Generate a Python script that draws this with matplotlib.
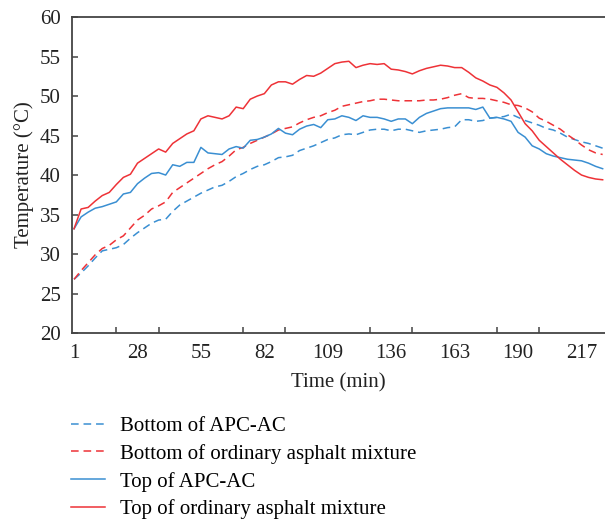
import matplotlib
matplotlib.use('Agg')
import matplotlib.pyplot as plt
from matplotlib.ticker import FixedLocator

plt.rcParams['font.family'] = ['Liberation Serif', 'DejaVu Serif']
plt.rcParams['font.size'] = 15

# time in minutes, one reading every 3 min
time_min = list(range(1, 227, 3))

bottom_apc = [26.8, 27.6, 28.5, 29.5, 30.4, 30.6, 30.8, 31.2, 32.0, 32.7,
              33.3, 33.9, 34.3, 34.4, 35.4, 36.2, 36.7, 37.2, 37.7, 38.1,
              38.5, 38.7, 39.2, 39.8, 40.2, 40.7, 41.1, 41.3, 41.7, 42.2,
              42.3, 42.5, 43.1, 43.4, 43.7, 44.1, 44.5, 44.7, 45.1, 45.2,
              45.1, 45.4, 45.7, 45.8, 45.8, 45.6, 45.8, 45.8, 45.6, 45.4,
              45.6, 45.7, 45.8, 46.0, 46.1, 47.0, 47.0, 46.8, 46.9, 47.2,
              47.3, 47.4, 47.7, 47.3, 46.9, 46.6, 46.3, 45.9, 45.7, 45.3,
              44.8, 44.5, 44.2, 44.0, 43.7, 43.4]

bottom_ord = [26.8, 27.9, 28.9, 29.9, 30.7, 31.1, 31.8, 32.3, 33.3, 34.3,
              34.9, 35.7, 36.1, 36.6, 37.8, 38.4, 39.0, 39.6, 40.2, 40.8,
              41.3, 41.7, 42.4, 43.2, 43.5, 44.0, 44.4, 44.8, 45.2, 45.7,
              45.9, 46.1, 46.6, 47.0, 47.3, 47.5, 47.9, 48.2, 48.7, 48.9,
              49.1, 49.3, 49.4, 49.6, 49.6, 49.5, 49.4, 49.4, 49.4, 49.4,
              49.5, 49.5, 49.6, 49.8, 50.1, 50.3, 49.8, 49.7, 49.7, 49.6,
              49.4, 49.2, 48.9, 48.8, 48.5, 48.0, 47.2, 46.8, 46.3, 45.8,
              45.1, 44.5, 43.8, 43.2, 42.8, 42.6]

top_apc = [33.2, 34.7, 35.3, 35.8, 36.0, 36.3, 36.6, 37.6, 37.8, 38.9,
           39.6, 40.2, 40.3, 40.0, 41.3, 41.1, 41.6, 41.6, 43.5, 42.8,
           42.7, 42.6, 43.3, 43.6, 43.4, 44.4, 44.5, 44.8, 45.2, 45.9,
           45.3, 45.1, 45.8, 46.2, 46.4, 46.0, 47.0, 47.1, 47.5, 47.3,
           46.9, 47.5, 47.3, 47.3, 47.1, 46.8, 47.1, 47.1, 46.5, 47.3,
           47.8, 48.1, 48.4, 48.5, 48.5, 48.5, 48.5, 48.3, 48.6, 47.2,
           47.3, 47.1, 46.8, 45.4, 44.8, 43.7, 43.3, 42.7, 42.4, 42.2,
           42.0, 41.9, 41.8, 41.5, 41.1, 40.8]

top_ord = [33.2, 35.7, 35.9, 36.7, 37.4, 37.8, 38.8, 39.7, 40.1, 41.5,
           42.1, 42.7, 43.3, 42.9, 44.0, 44.6, 45.2, 45.6, 47.1, 47.5,
           47.3, 47.1, 47.5, 48.6, 48.4, 49.6, 50.0, 50.3, 51.4, 51.8,
           51.8, 51.5, 52.1, 52.6, 52.5, 52.9, 53.5, 54.1, 54.3, 54.4,
           53.6, 53.9, 54.1, 54.0, 54.1, 53.4, 53.3, 53.1, 52.8, 53.2,
           53.5, 53.7, 53.9, 53.8, 53.6, 53.6, 53.0, 52.3, 51.9, 51.4,
           51.1, 50.4, 49.5, 48.0, 46.5, 45.6, 44.4, 43.6, 42.8, 42.0,
           41.3, 40.6, 40.0, 39.7, 39.5, 39.4]

x_labels = [1, 28, 55, 82, 109, 136, 163, 190, 217]
x_marks = [1, 19, 37, 55, 73, 91, 109, 127, 145, 163, 181, 199, 217]

blue = '#3a8fd2'
red = '#ee3237'
dash = (0, (5, 3.2))

fig = plt.figure(figsize=(6.05, 5.21), dpi=100)
ax = fig.add_axes([0.1185, 0.3608, 0.8815, 0.6065])

ax.plot(time_min, bottom_apc, color=blue, lw=1.1, linestyle=dash, label='Bottom of APC-AC')
ax.plot(time_min, bottom_ord, color=red, lw=1.1, linestyle=dash, label='Bottom of ordinary asphalt mixture')
ax.plot(time_min, top_apc, color=blue, lw=1.1, label='Top of APC-AC')
ax.plot(time_min, top_ord, color=red, lw=1.1, label='Top of ordinary asphalt mixture')

ax.set_xlim(0, 227)
ax.set_ylim(20, 60)
ax.set_yticks(range(20, 61, 5))
ax.set_xticks(x_labels)
ax.xaxis.set_minor_locator(FixedLocator(x_marks))
ax.tick_params(axis='x', which='major', length=0, pad=8, labelsize=15, colors='#222222')
ax.tick_params(axis='x', which='minor', direction='in', length=4, width=1.1, color='#444444')
ax.tick_params(axis='y', direction='in', length=4, width=1.1, color='#444444', pad=8,
               labelsize=15, labelcolor='#222222')

for side in ['left', 'bottom', 'top']:
    ax.spines[side].set_color('#444444')
    ax.spines[side].set_linewidth(1.3)
ax.spines['right'].set_visible(False)

ax.set_xlabel('Time (min)', fontsize=15, color='#222222', labelpad=7)
ax.set_ylabel('Temperature (°C)', fontsize=15, color='#222222', labelpad=4)

fig.legend(loc='upper left', bbox_to_anchor=(0.117, 0.201), frameon=False,
           fontsize=15, handlelength=1.65, handletextpad=0.7, labelspacing=0.38,
           borderpad=0, borderaxespad=0)

fig.savefig('out.png', dpi=100)
